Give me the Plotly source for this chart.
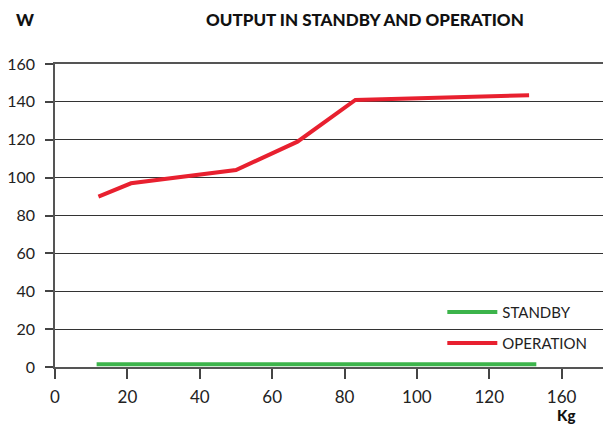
import plotly.graph_objects as go

# ---- data ----
operation_kg = [12, 21, 50, 67, 83, 131]
operation_w = [90, 97, 104, 119, 141, 143.5]
standby_kg = [11.5, 133]
standby_w = [1.5, 1.5]

x_tick_vals = [0, 20, 40, 60, 80, 100, 120, 140, 151.7]
x_tick_text = ["0", "20", "40", "60", "80", "100", "120", "160", ""]
y_tick_vals = [0, 20, 40, 60, 80, 100, 120, 140, 160]

title_text = "OUTPUT IN STANDBY AND OPERATION"
y_unit = "W"
x_unit = "Kg"

RED = "#e8202f"
GREEN = "#3cb44b"
FONT = "Lato"
TXT = "#222222"

fig = go.Figure()
fig.add_trace(go.Scatter(x=standby_kg, y=standby_w, mode="lines", name="STANDBY",
                         line=dict(color=GREEN, width=4), legend="legend"))
fig.add_trace(go.Scatter(x=operation_kg, y=operation_w, mode="lines", name="OPERATION",
                         line=dict(color=RED, width=4), legend="legend2"))

legend_common = dict(xanchor="left", yanchor="middle", bgcolor="rgba(0,0,0,0)",
                     borderwidth=0, itemwidth=50,
                     font=dict(family=FONT, size=15, color=TXT))

# page body has an 8px default margin: figure is sized to fit the remaining window
fig.update_layout(
    width=603, height=418,
    margin=dict(l=47, r=7, t=56, b=59, autoexpand=False),
    paper_bgcolor="white", plot_bgcolor="white",
    font=dict(family=FONT, size=16, color=TXT),
    showlegend=True,
    legend=dict(x=0.7055, y=0.181, **legend_common),
    legend2=dict(x=0.7055, y=0.078, **legend_common),
    xaxis=dict(range=[0, 151.7], tickmode="array", tickvals=x_tick_vals, ticktext=x_tick_text,
               automargin=False,
               showgrid=False, zeroline=False, showline=True, linecolor="#555555", linewidth=1.5,
               mirror=True, ticks="outside", ticklen=10, tickcolor="#444444", tickwidth=1.5,
               ticklabelstandoff=4, tickfont=dict(family=FONT, size=17, color=TXT)),
    yaxis=dict(range=[0, 160], tickmode="array", tickvals=y_tick_vals,
               automargin=False,
               showgrid=True, gridcolor="#333333", gridwidth=1, zeroline=False,
               showline=True, linecolor="#555555", linewidth=1.5, mirror=True,
               ticks="outside", ticklen=8, tickcolor="#444444", tickwidth=1.5,
               ticklabelstandoff=7, tickfont=dict(family=FONT, size=16, color=TXT)),
    annotations=[
        dict(text=title_text, xref="paper", yref="paper", x=0.564, y=1.0,
             yshift=45, xanchor="center", yanchor="middle", showarrow=False,
             font=dict(family=FONT, size=17, color="#111111", weight=900)),
        dict(text=y_unit, xref="paper", yref="paper", x=-0.054, y=1.0,
             yshift=45, xanchor="center", yanchor="middle", showarrow=False,
             font=dict(family=FONT, size=17, color="#111111", weight=900)),
        dict(text=x_unit, xref="paper", yref="paper", x=0.93, y=0.0,
             yshift=-58, xanchor="center", yanchor="bottom", showarrow=False,
             borderpad=0,
             font=dict(family=FONT, size=15, color="#111111", weight=900)),
    ],
)

fig.write_html("out.html")
